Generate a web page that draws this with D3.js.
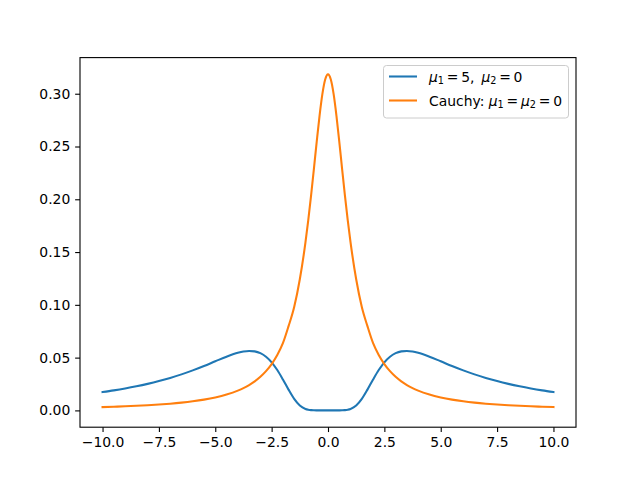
<!DOCTYPE html>
<html><head><meta charset="utf-8">
<script src="https://cdn.jsdelivr.net/npm/d3@7"></script>
<style>body{margin:0;background:#fff;} text{font-family:"DejaVu Sans",sans-serif;}</style>
</head><body>
<svg id="c" width="640" height="480"></svg>
<script>
const xs = [-10,-9.5,-9,-8.5,-8,-7.5,-7,-6.5,-6,-5.5,-5,-4.5,-4,-3.75,-3.5,-3.25,-3,-2.75,-2.5,-2.25,-2,-1.75,-1.5,-1.25,-1,-0.875,-0.75,-0.625,-0.5,-0.375,-0.25,-0.125,
  0,0.125,0.25,0.375,0.5,0.625,0.75,0.875,1,1.25,1.5,1.75,2,2.25,2.5,2.75,3,3.25,3.5,3.75,4,4.5,5,5.5,6,6.5,7,7.5,8,8.5,9,9.5,10];
const ratioSeries = [0.01737,0.01896,0.02076,0.02280,0.02512,0.02776,0.03076,0.03414,0.03793,0.04210,0.04652,0.05088,0.05457,0.05580,0.05635,0.05593,0.05422,0.05085,0.04556,0.03825,0.02929,0.01966,0.010913,0.004626,0.00136,0.000627,0.000256,0.000094,0.000032,0.000005,0.000001,0,
  0,0,0.000001,0.000005,0.000032,0.000094,0.000256,0.000627,0.00136,0.004626,0.010913,0.01966,0.02929,0.03825,0.04556,0.05085,0.05422,0.05593,0.05635,0.05580,0.05457,0.05088,0.04652,0.04210,0.03793,0.03414,0.03076,0.02776,0.02512,0.02280,0.02076,0.01896,0.01737];
const cauchySeries = [0.003152,0.003488,0.003882,0.004346,0.004897,0.005560,0.006366,0.007360,0.008603,0.010186,0.012243,0.014979,0.018724,0.02113,0.024023,0.02753,0.03183,0.03717,0.04390,0.05250,0.06366,0.07979,0.09794,0.12420,0.15915,0.18028,0.20372,0.22890,0.25465,0.27907,0.29959,0.31341,
  0.31831,0.31341,0.29959,0.27907,0.25465,0.22890,0.20372,0.18028,0.15915,0.12420,0.09794,0.07979,0.06366,0.05250,0.04390,0.03717,0.03183,0.02753,0.024023,0.02113,0.018724,0.014979,0.012243,0.010186,0.008603,0.007360,0.006366,0.005560,0.004897,0.004346,0.003882,0.003488,0.003152];
const xTicks = [-10,-7.5,-5,-2.5,0,2.5,5,7.5,10];
const yTicks = [0,0.05,0.10,0.15,0.20,0.25,0.30];
const colors = ["#1f77b4","#ff7f0e"];

const svg = d3.select("#c");
const L=80,R=576,T=57.6,B=427.2;
const ymax = d3.max(cauchySeries), ymin = 0;
const ypad = (ymax-ymin)*0.05;
const x = d3.scaleLinear().domain([-11,11]).range([L,R]);
const y = d3.scaleLinear().domain([ymin-ypad,ymax+ypad]).range([B,T]);

const line = d3.line().x((d,i)=>x(xs[i])).y(d=>y(d)).curve(d3.curveMonotoneX);
const g = svg.append("g");
[ratioSeries,cauchySeries].forEach((s,k)=>{
  g.append("path").attr("d",line(s)).attr("fill","none").attr("stroke",colors[k]).attr("stroke-width",2.08).attr("stroke-linejoin","round").attr("stroke-linecap","square");
});

const xa = svg.append("g").attr("transform",`translate(0,${B})`)
  .call(d3.axisBottom(x).tickValues(xTicks).tickFormat(d=>d3.format(".1f")(d).replace("-","\u2212")).tickSize(4.86).tickPadding(4.9));
const ya = svg.append("g").attr("transform",`translate(${L},0)`)
  .call(d3.axisLeft(y).tickValues(yTicks).tickFormat(d3.format(".2f")).tickSize(4.86).tickPadding(4.9));
[xa,ya].forEach(a=>{
  a.select(".domain").remove();
  a.selectAll(".tick line").attr("stroke","#000").attr("stroke-width",1.1);
  a.selectAll("text").attr("font-size","13.9px").attr("fill","#000").attr("font-family","DejaVu Sans");
});
svg.append("rect").attr("x",L).attr("y",T).attr("width",R-L).attr("height",B-T)
  .attr("fill","none").attr("stroke","#000").attr("stroke-width",1.1);

// legend
const lg = svg.append("g");
lg.append("rect").attr("x",383.5).attr("y",65.5).attr("width",185).attr("height",52.5).attr("rx",3)
  .attr("fill","#fff").attr("fill-opacity",0.8).attr("stroke","#ccc").attr("stroke-width",1);
const rows = [76.5,100.5];
rows.forEach((ry,k)=>{
  lg.append("line").attr("x1",389).attr("x2",417).attr("y1",ry).attr("y2",ry).attr("stroke",colors[k]).attr("stroke-width",2.08);
});
function legendText(parts, yy){
  const t = lg.append("text").attr("x",429).attr("y",yy).attr("font-size","13.9px").attr("fill","#000").attr("xml:space","preserve");
  parts.forEach(p=>{
    const s = t.append("tspan").text(p.t);
    if(p.it) s.attr("font-style","italic");
    if(p.sub) s.attr("font-size","9.7px").attr("baseline-shift","-20%");
  });
}
legendText([{t:"\u03bc",it:1},{t:"1",sub:1},{t:"\u2009=\u20095,\u2002"},{t:"\u03bc",it:1},{t:"2",sub:1},{t:"\u2009=\u20090"}], rows[0]+5);
legendText([{t:"Cauchy: "},{t:"\u03bc",it:1},{t:"1",sub:1},{t:"\u2009=\u2009"},{t:"\u03bc",it:1},{t:"2",sub:1},{t:"\u2009=\u20090"}], rows[1]+5);
</script>
</body></html>
